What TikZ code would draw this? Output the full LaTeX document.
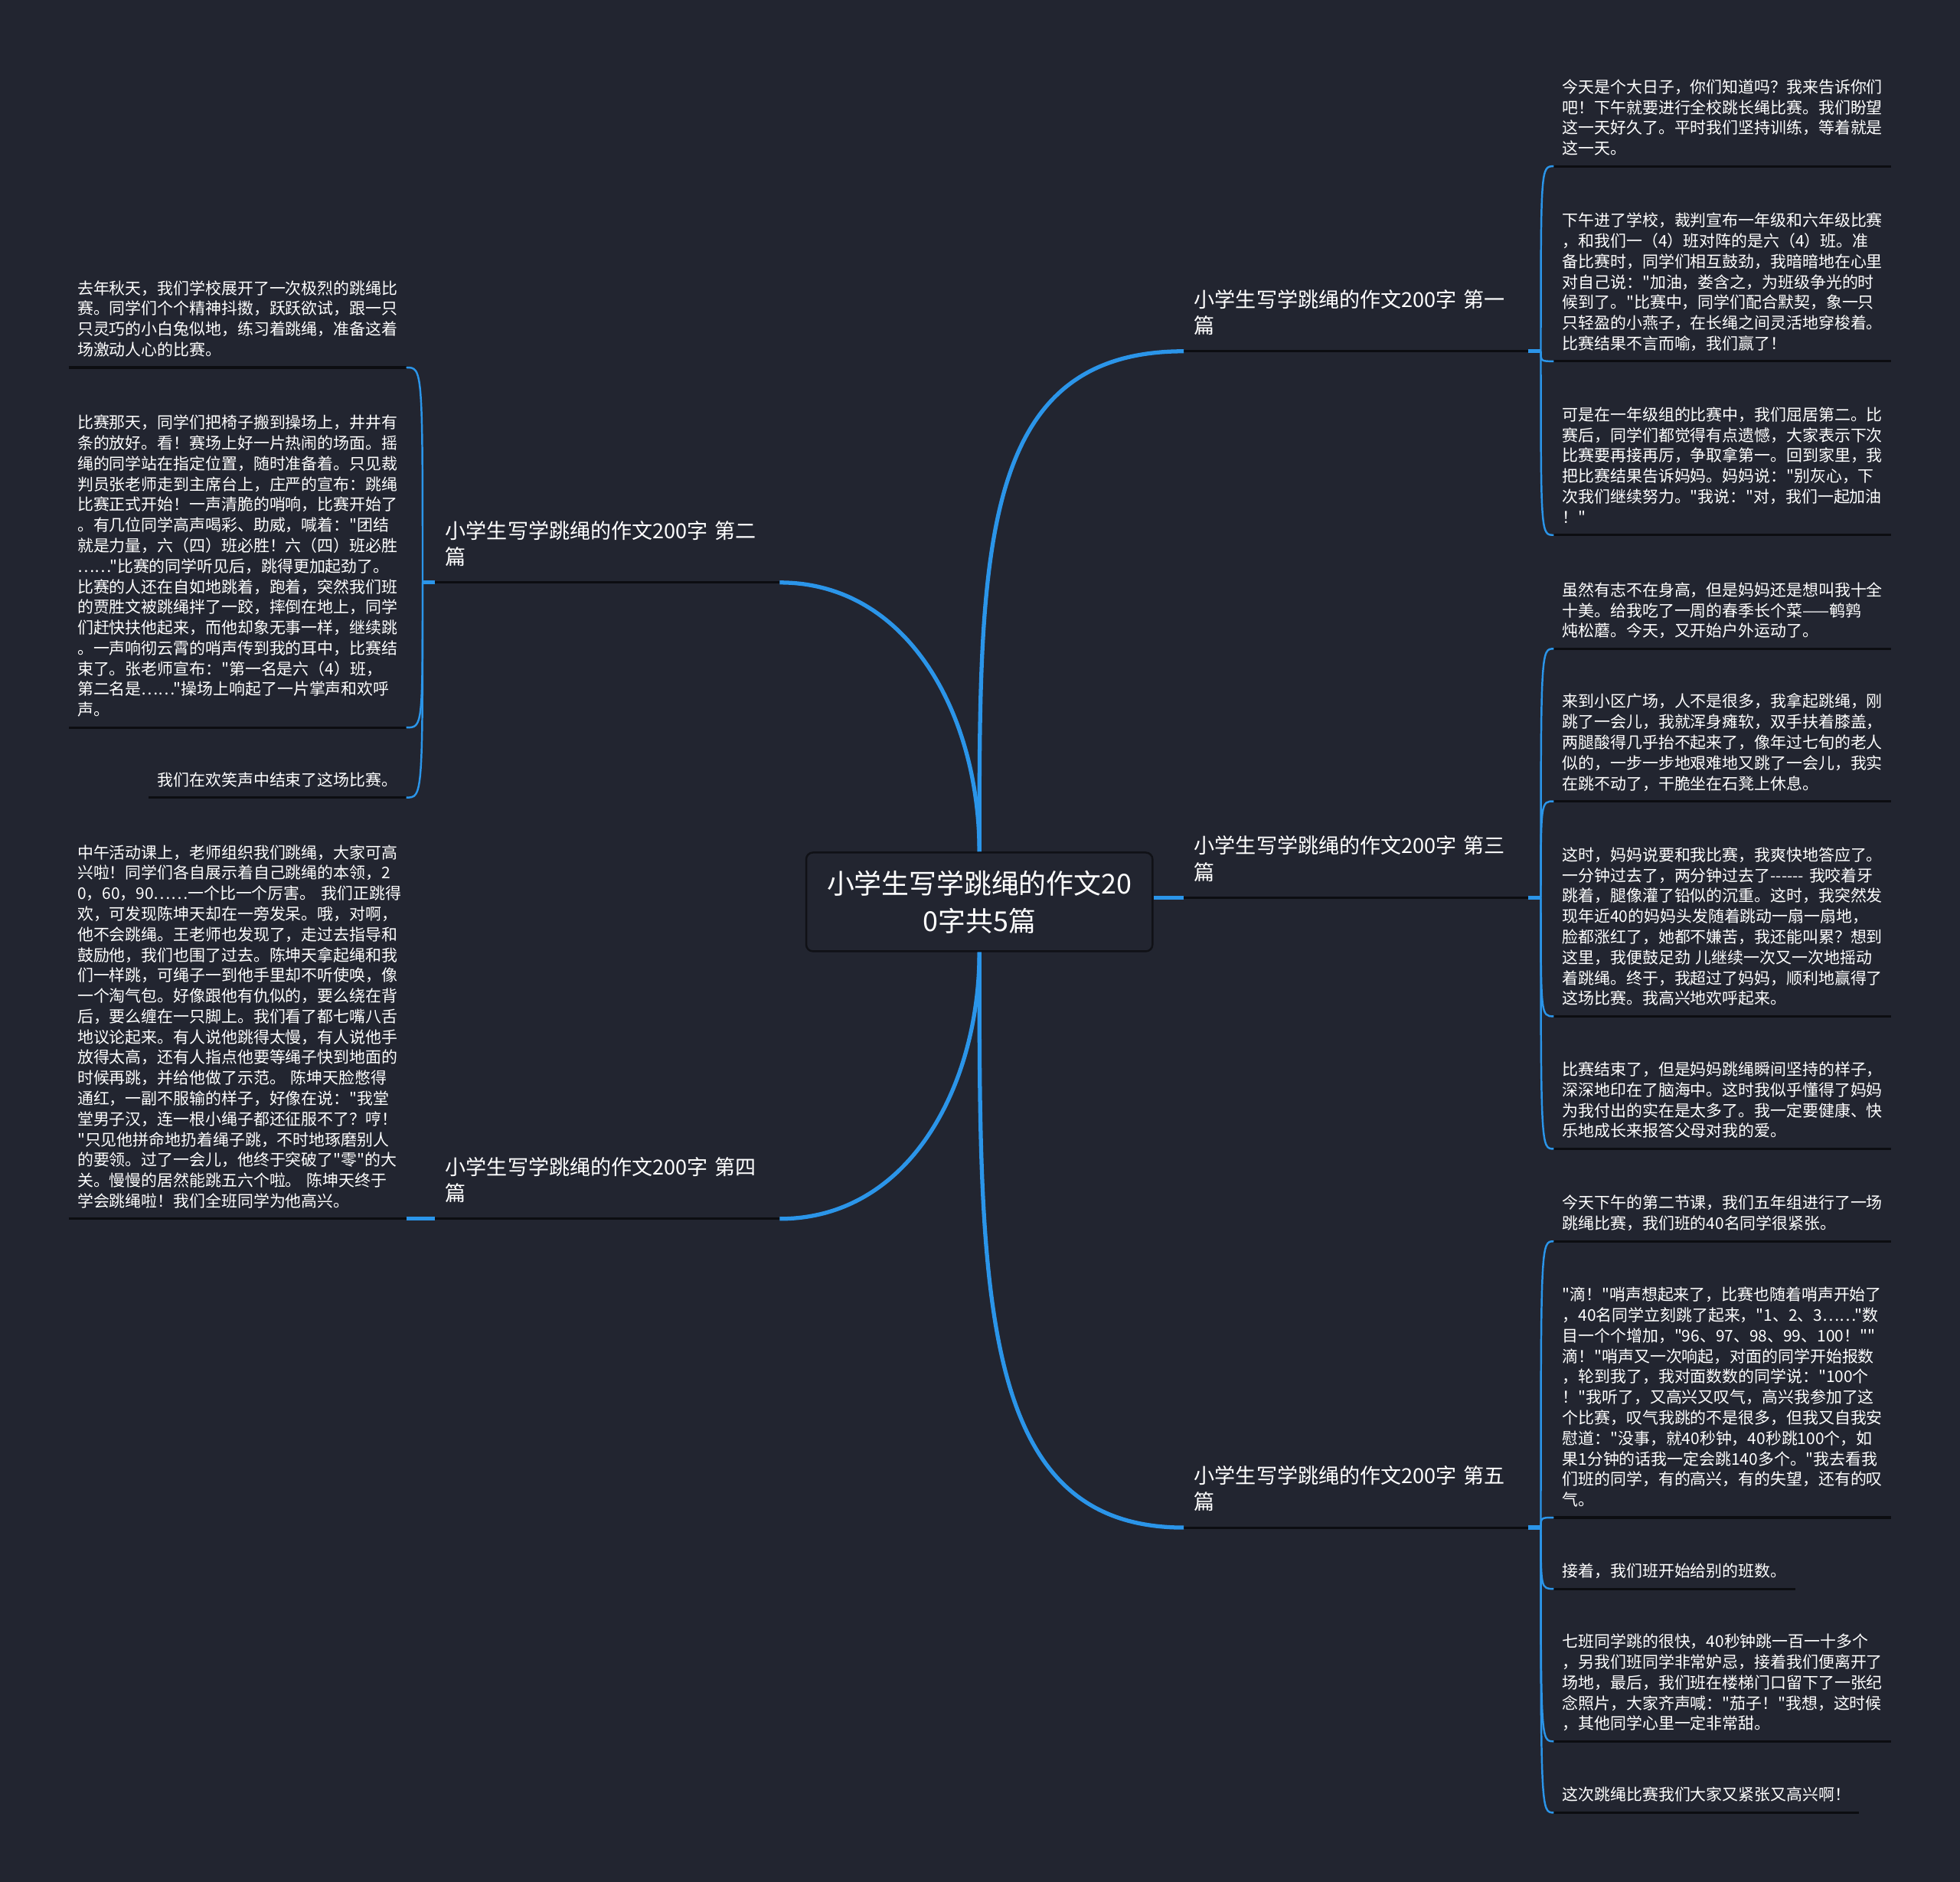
\documentclass[tikz,border=0pt]{standalone}
\usepackage{fontspec}
\setmainfont{Noto Sans CJK SC}[Ligatures=TeXOff]
\usetikzlibrary{calc, positioning}
\definecolor{Fond}{RGB}{34,37,48}
\definecolor{BleuLien}{RGB}{43,149,233}
\definecolor{Trait}{RGB}{12,13,17}
\definecolor{Cadre}{RGB}{16,17,22}
\newcommand\finligne{\rule[-2pt]{0pt}{2pt}}
\tikzset{racine/.style={rectangle, rounded corners=2.5pt, draw=Cadre, fill=Fond,
  line width=0.7pt, minimum width=128.7pt, minimum height=36.7pt, align=center,
  text=white, font=\fontsize{10.2pt}{13.9pt}\selectfont}}
\tikzset{branche/.style={anchor=south west, inner xsep=3.7pt, inner ysep=4.4pt,
  text width=120.3pt, align=left, text=white,
  font=\fontsize{7.7pt}{9.75pt}\selectfont, execute at end node=\finligne}}
\tikzset{feuille/.style={anchor=south west, inner xsep=3pt, inner ysep=2.2pt,
  align=left, text=white, font=\fontsize{5.95pt}{7.62pt}\selectfont,
  execute at end node=\finligne}}
\tikzset{longue/.style={feuille, text width=119pt}}
\tikzset{souligne/.style={draw=Trait, line width=0.9pt}}
\tikzset{lien/.style={draw=BleuLien, line width=1.5pt}}
\tikzset{fil/.style={draw=BleuLien, line width=0.7pt}}

\begin{document}
\begin{tikzpicture}[x=0.16327mm, y=-0.16327mm]
\fill[Fond] (0,0) rectangle (1568,1505.5);
% racine
\node[racine] (c) at (783.5,721.5) {小学生写学跳绳的作文20\\0字共5篇};
% branches
\node[branche] (b1) at (947,281) {小学生写学跳绳的作文200字~第一\\篇};
\node[branche] (b2) at (348,466) {小学生写学跳绳的作文200字~第二\\篇};
\node[branche] (b3) at (947,718) {小学生写学跳绳的作文200字~第三\\篇};
\node[branche] (b4) at (348,975) {小学生写学跳绳的作文200字~第四\\篇};
\node[branche] (b5) at (947,1222) {小学生写学跳绳的作文200字~第五\\篇};
\coordinate[right=4.6pt of b1.south east] (j1);
\coordinate[left=4.6pt of b2.south west] (j2);
\coordinate[right=4.6pt of b3.south east] (j3);
\coordinate[right=4.6pt of b5.south east] (j5);
% feuilles, premier
\node[longue] (f1a) at (1243,133) {今天是个大日子，你们知道吗？我来告诉你们\\吧！下午就要进行全校跳长绳比赛。我们盼望\\这一天好久了。平时我们坚持训练，等着就是\\这一天。};
\node[longue] (f1b) at (1243,289) {下午进了学校，裁判宣布一年级和六年级比赛\\，和我们一（4）班对阵的是六（4）班。准\\备比赛时，同学们相互鼓劲，我暗暗地在心里\\对自己说："加油，娄含之，为班级争光的时\\候到了。"比赛中，同学们配合默契，象一只\\只轻盈的小燕子，在长绳之间灵活地穿梭着。\\比赛结果不言而喻，我们赢了！};
\node[longue] (f1c) at (1243,428) {可是在一年级组的比赛中，我们屈居第二。比\\赛后，同学们都觉得有点遗憾，大家表示下次\\比赛要再接再厉，争取拿第一。回到家里，我\\把比赛结果告诉妈妈。妈妈说："别灰心，下\\次我们继续努力。"我说："对，我们一起加油\\！"};
% feuilles, deuxieme
\node[longue, anchor=south east] (f2a) at (325,294) {去年秋天，我们学校展开了一次极烈的跳绳比\\赛。同学们个个精神抖擞，跃跃欲试，跟一只\\只灵巧的小白兔似地，练习着跳绳，准备这着\\场激动人心的比赛。};
\node[longue, anchor=south east] (f2b) at (325,582) {比赛那天，同学们把椅子搬到操场上，井井有\\条的放好。看！赛场上好一片热闹的场面。摇\\绳的同学站在指定位置，随时准备着。只见裁\\判员张老师走到主席台上，庄严的宣布：跳绳\\比赛正式开始！一声清脆的哨响，比赛开始了\\。有几位同学高声喝彩、助威，喊着："团结\\就是力量，六（四）班必胜！六（四）班必胜\\……"比赛的同学听见后，跳得更加起劲了。\\比赛的人还在自如地跳着，跑着，突然我们班\\的贾胜文被跳绳拌了一跤，摔倒在地上，同学\\们赶快扶他起来，而他却象无事一样，继续跳\\。一声响彻云霄的哨声传到我的耳中，比赛结\\束了。张老师宣布："第一名是六（4）班，\\第二名是……"操场上响起了一片掌声和欢呼\\声。};
\node[feuille, anchor=south east] (f2c) at (325,638) {我们在欢笑声中结束了这场比赛。};
% feuilles, troisieme
\node[longue] (f3a) at (1243,519) {虽然有志不在身高，但是妈妈还是想叫我十全\\十美。给我吃了一周的春季长个菜——鹌鹑\\炖松蘑。今天，又开始户外运动了。};
\node[longue] (f3b) at (1243,641) {来到小区广场，人不是很多，我拿起跳绳，刚\\跳了一会儿，我就浑身瘫软，双手扶着膝盖，\\两腿酸得几乎抬不起来了，像年过七旬的老人\\似的，一步一步地艰难地又跳了一会儿，我实\\在跳不动了，干脆坐在石凳上休息。};
\node[longue] (f3c) at (1243,813) {这时，妈妈说要和我比赛，我爽快地答应了。\\一分钟过去了，两分钟过去了------~我咬着牙\\跳着，腿像灌了铅似的沉重。这时，我突然发\\现年近40的妈妈头发随着跳动一扇一扇地，\\脸都涨红了，她都不嫌苦，我还能叫累？想到\\这里，我便鼓足劲~儿继续一次又一次地摇动\\着跳绳。终于，我超过了妈妈，顺利地赢得了\\这场比赛。我高兴地欢呼起来。};
\node[longue] (f3d) at (1243,919) {比赛结束了，但是妈妈跳绳瞬间坚持的样子，\\深深地印在了脑海中。这时我似乎懂得了妈妈\\为我付出的实在是太多了。我一定要健康、快\\乐地成长来报答父母对我的爱。};
% feuille, quatrieme
\node[longue, anchor=south east] (f4) at (325,975) {中午活动课上，老师组织我们跳绳，大家可高\\兴啦！同学们各自展示着自己跳绳的本领，2\\0，60，90……一个比一个厉害。~我们正跳得\\欢，可发现陈坤天却在一旁发呆。哦，对啊，\\他不会跳绳。王老师也发现了，走过去指导和\\鼓励他，我们也围了过去。陈坤天拿起绳和我\\们一样跳，可绳子一到他手里却不听使唤，像\\一个淘气包。好像跟他有仇似的，要么绕在背\\后，要么缠在一只脚上。我们看了都七嘴八舌\\地议论起来。有人说他跳得太慢，有人说他手\\放得太高，还有人指点他要等绳子快到地面的\\时候再跳，并给他做了示范。~陈坤天脸憋得\\通红，一副不服输的样子，好像在说："我堂\\堂男子汉，连一根小绳子都还征服不了？哼！\\"只见他拼命地扔着绳子跳，不时地琢磨别人\\的要领。过了一会儿，他终于突破了"零"的大\\关。慢慢的居然能跳五六个啦。~陈坤天终于\\学会跳绳啦！我们全班同学为他高兴。};
% feuilles, cinquieme
\node[longue] (f5a) at (1243,993) {今天下午的第二节课，我们五年组进行了一场\\跳绳比赛，我们班的40名同学很紧张。};
\node[longue] (f5b) at (1243,1214) {"滴！"哨声想起来了，比赛也随着哨声开始了\\，40名同学立刻跳了起来，"1、2、3……"数\\目一个个增加，"96、97、98、99、100！""\\滴！"哨声又一次响起，对面的同学开始报数\\，轮到我了，我对面数数的同学说："100个\\！"我听了，又高兴又叹气，高兴我参加了这\\个比赛，叹气我跳的不是很多，但我又自我安\\慰道："没事，就40秒钟，40秒跳100个，如\\果1分钟的话我一定会跳140多个。"我去看我\\们班的同学，有的高兴，有的失望，还有的叹\\气。};
\node[feuille] (f5c) at (1243,1271) {接着，我们班开始给别的班数。};
\node[longue] (f5d) at (1243,1393) {七班同学跳的很快，40秒钟跳一百一十多个\\，另我们班同学非常妒忌，接着我们便离开了\\场地，最后，我们班在楼梯门口留下了一张纪\\念照片，大家齐声喊："茄子！"我想，这时候\\，其他同学心里一定非常甜。};
\node[feuille] (f5e) at (1243,1450) {这次跳绳比赛我们大家又紧张又高兴啊！};
% soulignes
\draw[souligne] (b1.south west) -- (b1.south east); \draw[souligne] (b2.south west) -- (b2.south east);
\draw[souligne] (b3.south west) -- (b3.south east); \draw[souligne] (b4.south west) -- (b4.south east);
\draw[souligne] (b5.south west) -- (b5.south east);
\draw[souligne] (f1a.south west) -- (f1a.south east); \draw[souligne] (f1b.south west) -- (f1b.south east);
\draw[souligne] (f1c.south west) -- (f1c.south east); \draw[souligne] (f2a.south west) -- (f2a.south east);
\draw[souligne] (f2b.south west) -- (f2b.south east); \draw[souligne] (f2c.south west) -- (f2c.south east);
\draw[souligne] (f3a.south west) -- (f3a.south east); \draw[souligne] (f3b.south west) -- (f3b.south east);
\draw[souligne] (f3c.south west) -- (f3c.south east); \draw[souligne] (f3d.south west) -- (f3d.south east);
\draw[souligne] (f4.south west) -- (f4.south east);
\draw[souligne] (f5a.south west) -- (f5a.south east); \draw[souligne] (f5b.south west) -- (f5b.south east);
\draw[souligne] (f5c.south west) -- (f5c.south east); \draw[souligne] (f5d.south west) -- (f5d.south east);
\draw[souligne] (f5e.south west) -- (f5e.south east);
% liens principaux
\draw[lien] (c.north) .. controls ($(c.north)!0.6!(c.north |- b1.south west)$) and (c.north |- b1.south west) .. (b1.south west);
\draw[lien] (c.north) .. controls ($(c.north)!0.5!(c.north |- b2.south east)$) and ($(b2.south east)!0.65!(c.north |- b2.south east)$) .. (b2.south east);
\draw[lien] (b3.south west -| c.east) -- (b3.south west);
\draw[lien] (c.south) .. controls ($(c.south)!0.5!(c.south |- b4.south east)$) and ($(b4.south east)!0.65!(c.south |- b4.south east)$) .. (b4.south east);
\draw[lien] (c.south) .. controls ($(c.south)!0.6!(c.south |- b5.south west)$) and (c.south |- b5.south west) .. (b5.south west);
% accolades
\draw[lien] (b1.south east) -- (j1); \draw[lien] (b2.south west) -- (j2);
\draw[lien] (b3.south east) -- (j3); \draw[lien] (b5.south east) -- (j5);
\draw[lien] (f4.south east) -- (b4.south west);
\draw[fil] (j1) .. controls (j1 |- f1a.south west) .. (f1a.south west);
\draw[fil] (j1) .. controls (j1 |- f1b.south west) .. (f1b.south west);
\draw[fil] (j1) .. controls (j1 |- f1c.south west) .. (f1c.south west);
\draw[fil] (j2) .. controls (j2 |- f2a.south east) .. (f2a.south east);
\draw[fil] (j2) .. controls (j2 |- f2b.south east) .. (f2b.south east);
\draw[fil] (j2) .. controls (j2 |- f2c.south east) .. (f2c.south east);
\draw[fil] (j3) .. controls (j3 |- f3a.south west) .. (f3a.south west);
\draw[fil] (j3) .. controls (j3 |- f3b.south west) .. (f3b.south west);
\draw[fil] (j3) .. controls (j3 |- f3c.south west) .. (f3c.south west);
\draw[fil] (j3) .. controls (j3 |- f3d.south west) .. (f3d.south west);
\draw[fil] (j5) .. controls (j5 |- f5a.south west) .. (f5a.south west);
\draw[fil] (j5) .. controls (j5 |- f5b.south west) .. (f5b.south west);
\draw[fil] (j5) .. controls (j5 |- f5c.south west) .. (f5c.south west);
\draw[fil] (j5) .. controls (j5 |- f5d.south west) .. (f5d.south west);
\draw[fil] (j5) .. controls (j5 |- f5e.south west) .. (f5e.south west);
\end{tikzpicture}
\end{document}
